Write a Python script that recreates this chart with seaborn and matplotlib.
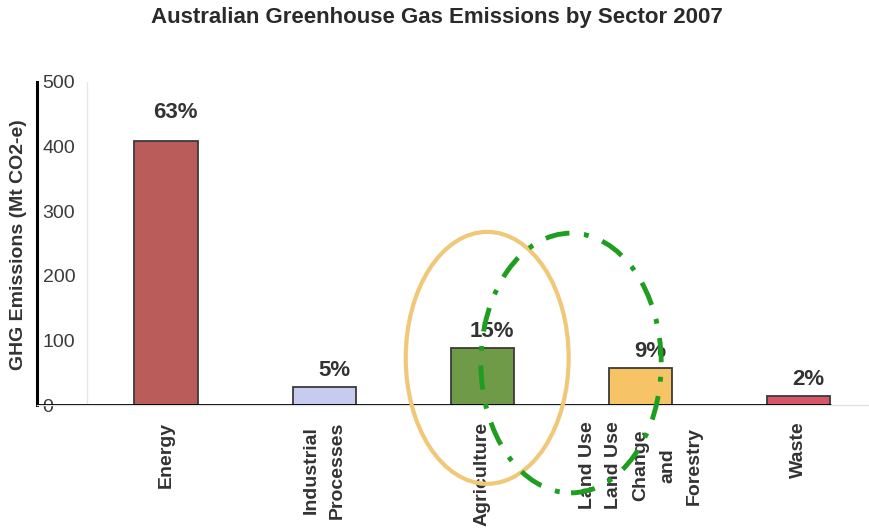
import matplotlib
matplotlib.use("Agg")
import matplotlib.pyplot as plt
from matplotlib.patches import Ellipse
import seaborn as sns
import pandas as pd

# Emissions by sector, 2007 (Mt CO2-e) and share of total
sectors = ["Energy", "Industrial\nProcesses", "Agriculture",
           "Land Use\nLand Use\nChange\nand\nForestry", "Waste"]
emissions = [408, 28, 88, 57, 14]
shares = ["63%", "5%", "15%", "9%", "2%"]
bar_colors = ["#BA5C5A", "#C7CBF0", "#6F9A48", "#F6C465", "#DA5468"]
y_ticks = [0, 100, 200, 300, 400, 500]

df = pd.DataFrame({"sector": sectors, "emissions": emissions})

sns.set_theme(style="white")
plt.rcParams["font.family"] = ["Liberation Sans", "DejaVu Sans"]

fig = plt.figure(figsize=(8.7, 5.31), dpi=100)
ax = fig.add_axes([37 / 870, 1 - 405 / 531, (870 - 37) / 870, (405 - 82) / 531])

sns.barplot(data=df, x="sector", y="emissions", hue="sector",
            palette=bar_colors, legend=False, width=0.4, saturation=1,
            edgecolor="#3a3a3a", linewidth=1.3, ax=ax)

ax.set_xlim(-0.816, 4.45)
ax.set_ylim(0, 500)
ax.set_yticks(y_ticks)

# percentage labels above each bar
for i, (v, s) in enumerate(zip(emissions, shares)):
    gap = 13 if i == 0 else 4.5
    ax.annotate(s, xy=(i, v), xytext=(7, gap), textcoords="offset points",
                ha="center", va="bottom", fontsize=16, fontweight="bold",
                color="#333333")

# axis styling
for side in ["top", "right"]:
    ax.spines[side].set_visible(False)
ax.spines["left"].set_color("black")
ax.spines["left"].set_linewidth(2.2)
ax.spines["bottom"].set_color("#dde3e3")
ax.spines["bottom"].set_linewidth(1.0)
ax.axhline(0, color="black", lw=2.0, xmin=0, xmax=(4.2 + 0.816) / (4.45 + 0.816), zorder=5)
ax.axvline(-0.5, color="#e3e8e8", lw=1.0, zorder=0)

ax.tick_params(axis="y", length=0, pad=-4, labelsize=14, labelcolor="#3a3a3a")
for lbl in ax.get_yticklabels():
    lbl.set_horizontalalignment("left")

ax.tick_params(axis="x", length=0, pad=12, labelsize=14, labelcolor="#333333")
for lbl in ax.get_xticklabels():
    lbl.set_rotation(90)
    lbl.set_multialignment("center")
    lbl.set_linespacing(1.75)
    lbl.set_fontweight("bold")

ax.set_xticks([0.5, 1.5, 2.5, 3.5], minor=True)
ax.tick_params(axis="x", which="minor", length=6, color="#cfd6d6", width=1, direction="out")

ax.set_xlabel("")
ax.set_ylabel("GHG Emissions (Mt CO2-e)", fontsize=14, fontweight="bold",
              color="#333333")
ax.yaxis.set_label_coords((27 - 37) / 833, (405 - 245) / 323)

fig.suptitle("Australian Greenhouse Gas Emissions by Sector 2007",
             x=437 / 870, y=1 - 18 / 531, va="center",
             fontsize=16, fontweight="bold", color="#2a2a2a")

# highlight rings around agriculture and land use
ax.add_patch(Ellipse((2.03, 73), 1.03, 390, fill=False, edgecolor="#F0C878",
                     lw=3, clip_on=False, zorder=6))
ax.add_patch(Ellipse((2.56, 65), 1.14, 402, fill=False, edgecolor="#1E9E1E",
                     lw=3.5, linestyle=(0, (5, 3, 1, 3)), clip_on=False, zorder=6))

fig.savefig("out.png", dpi=100)
